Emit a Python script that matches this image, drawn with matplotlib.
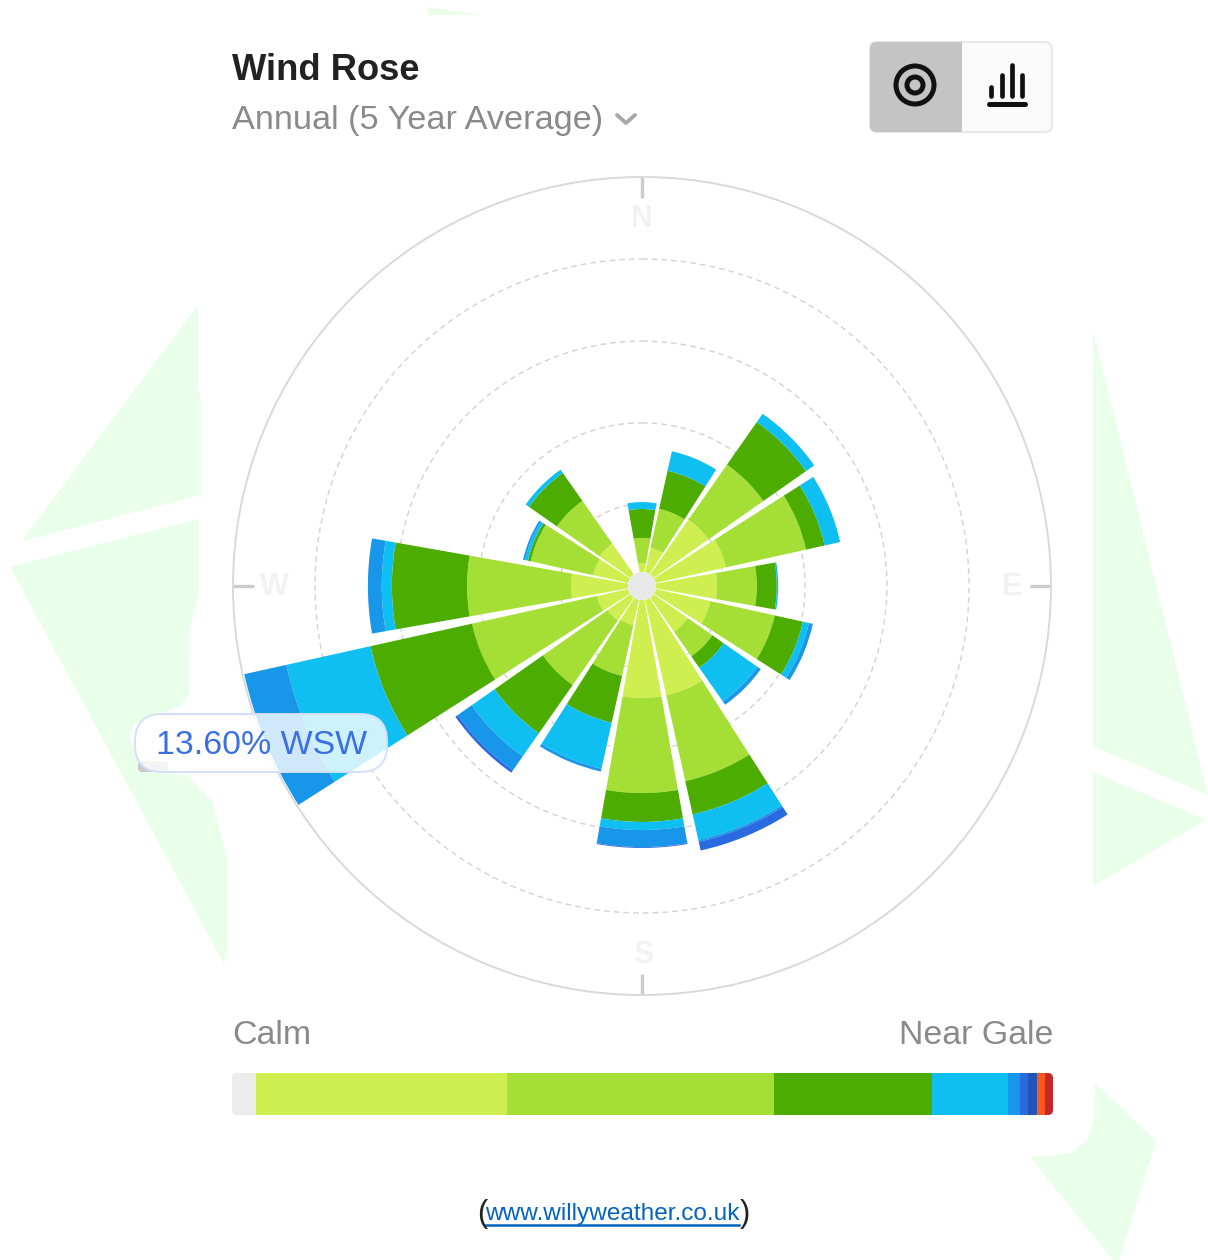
import numpy as np
import matplotlib
matplotlib.use("Agg")
import matplotlib.pyplot as plt
from matplotlib.patches import Circle, FancyBboxPatch, Polygon, Rectangle

plt.rcParams['font.family'] = ['Liberation Sans', 'DejaVu Sans']

W, H = 1208, 1260

# wind rose, percent of the time per direction, one list per speed class
directions = ['N', 'NNE', 'NE', 'ENE', 'E', 'ESE', 'SE', 'SSE', 'S', 'SSW', 'SW', 'WSW', 'W', 'WNW', 'NW', 'NNW']
light_air = [.31, .87, 2.32, 2.49, 2.11, 1.94, 1.45, 3.39, 3.39, .90, .97, 1.11, 1.97, 1.25, 1.31, 0]
light_breeze = [.87, 1.38, 2.32, 2.84, 1.38, 2.28, 1.04, 3.04, 3.29, 1.80, 2.73, 4.43, 3.60, 2.21, 1.80, 0]
gentle_breeze = [1.00, 1.35, 1.80, .66, .69, 1.00, .48, 1.18, 1.00, 1.66, 2.04, 3.60, 2.60, .10, 1.18, 0]
moderate_breeze = [.24, .69, .35, .55, .05, .21, 1.42, .90, .28, 1.63, .97, 2.98, .35, .10, .14, 0]
fresh_breeze = [0, 0, 0, 0, 0, .14, .14, .07, .59, .10, .59, 1.49, .48, .07, 0, 0]
strong_breeze = [0, 0, 0, 0, 0, 0, 0, .31, .03, 0, .10, 0, 0, 0, 0, 0]
rose_series = [light_air, light_breeze, gentle_breeze, moderate_breeze, fresh_breeze, strong_breeze]
rose_colors = ['#cfef50', '#a5df35', '#4cad00', '#10bff2', '#1896ea', '#2a6ae0']

ring_values = [2.35, 5.16, 7.99, 10.83]
rmax = 13.667
hub = 0.484

# scale bar at the bottom
scale_values = [2.9, 30.8, 32.6, 19.4, 9.3, 1.5, 1.0, 1.0, 1.0, 1.0]
scale_colors = ['#ececec', '#cfef50', '#a5df35', '#4cad00', '#10bff2', '#1896ea', '#2a6ae0', '#1f55b8', '#ff5722', '#c62828']

fig = plt.figure(figsize=(W / 100, H / 100), dpi=100, facecolor='white')

# background shapes, pixel coordinates
bg = fig.add_axes([0, 0, 1, 1], zorder=0)
bg.set_xlim(0, W)
bg.set_ylim(H, 0)
bg.axis('off')
shapes = [
    [(198, 305), (22, 541), (201, 495), (201, 400), (198, 390)],
    [(10, 567), (199, 519), (199, 594), (190, 629), (189, 695), (180, 706), (133, 724), (130, 739),
     (143, 772), (187, 775), (212, 801), (227, 858), (227, 950), (224, 964)],
    [(1093, 330), (1208, 795), (1093, 746)],
    [(1093, 772), (1206, 820), (1093, 886)],
    [(1095, 1083), (1156, 1141), (1119, 1260), (1113, 1260), (1030, 1157), (1052, 1156), (1073, 1152),
     (1087, 1140), (1093, 1123)],
    [(428, 7), (480, 15), (428, 15)],
]
for s in shapes:
    bg.add_patch(Polygon(s, closed=True, fc='#e9ffe9', ec='none'))

# rose
R = 409
ax = fig.add_axes([(642 - R) / W, (H - 586 - R) / H, 2 * R / W, 2 * R / H], projection='polar', zorder=1)
ax.patch.set_alpha(0)
ax.set_theta_zero_location('N')
ax.set_theta_direction(-1)
theta = np.deg2rad(np.arange(16) * 22.5)
bottom = np.zeros(16)
for vals, c in zip(rose_series, rose_colors):
    ax.bar(theta, vals, width=np.deg2rad(20), bottom=bottom, color=c, linewidth=0, zorder=3)
    bottom = bottom + np.array(vals)
ax.set_rorigin(-hub)
ax.set_rlim(0, rmax)
ax.set_rgrids(ring_values, labels=[''] * 4)
ax.set_thetagrids([], labels=[])
ax.yaxis.grid(True, color='#d2d2d2', linestyle=(0, (4, 3)), linewidth=1.0)
ax.set_axisbelow(True)
ax.tick_params(length=0)
ax.spines['polar'].set_color('#d9d9d9')
ax.spines['polar'].set_linewidth(1.4)
ax.spines['inner'].set_color('none')  # draw() switches this one back on
for t in np.deg2rad([0, 90, 180, 270]):
    ax.plot([t, t], [rmax - 0.72, rmax], color='#cccccc', lw=2.4, zorder=2, solid_capstyle='butt')

# everything on top, pixel coordinates again
fg = fig.add_axes([0, 0, 1, 1], zorder=2)
fg.set_xlim(0, W)
fg.set_ylim(H, 0)
fg.axis('off')
fg.patch.set_alpha(0)

fg.add_patch(Circle((642, 586), 14, fc='#e9e9e9', ec='none'))
for lab, x, y in [('N', 642, 219), ('E', 1012, 587), ('S', 643, 955), ('W', 274, 587)]:
    fg.text(x, y, lab, color='#f2f2f2', fontsize=22, fontweight='bold', ha='center', va='center')

fg.text(232, 70, 'Wind Rose', fontsize=26.2, fontweight='bold', color='#222222', va='center')
fg.text(232, 121, 'Annual (5 Year Average)', fontsize=24.7, color='#8a8a8a', va='center')
fg.plot([617, 626, 635], [115, 123, 115], color='#a8a8a8', lw=2.8, solid_capstyle='round')

# toggle
fg.add_patch(FancyBboxPatch((870, 42), 182, 90, boxstyle='round,pad=0,rounding_size=7', fc='#fafafa', ec='#e8e8e8', lw=1.5))
toggle_clip = FancyBboxPatch((870, 42), 182, 90, boxstyle='round,pad=0,rounding_size=7', fc='none', ec='none', transform=fg.transData)
fg.add_patch(toggle_clip)
left = Rectangle((869, 40), 93, 94, fc='#c4c4c4', ec='none')
fg.add_patch(left)
left.set_clip_path(toggle_clip)
fg.add_patch(Circle((915, 85), 19, fc='none', ec='#111111', lw=3.6))
fg.add_patch(Circle((915, 85), 8, fc='none', ec='#111111', lw=3.6))
for x, top in [(991, 87), (1002, 75), (1012, 65), (1022, 75)]:
    fg.plot([x, x], [top, 96], color='#111111', lw=3.4, solid_capstyle='round')
fg.plot([989, 1025], [104, 104], color='#111111', lw=3.6, solid_capstyle='round')

# tooltip
fg.add_patch(FancyBboxPatch((138, 761), 30, 11, boxstyle='round,pad=0,rounding_size=4', fc='#c9c9c9', ec='none'))
fg.add_patch(FancyBboxPatch((135, 714), 252, 58, boxstyle='round,pad=0,rounding_size=27', fc=(1, 1, 1, .8), ec='#d3e0fa', lw=1.4))
fg.text(262, 746, '13.60% WSW', fontsize=24.4, color='#3a70e2', ha='center', va='center')

fg.text(232, 1035, 'Calm', fontsize=24.4, color='#8a8a8a', va='center')
fg.text(1053, 1035, 'Near Gale', fontsize=24.4, color='#8a8a8a', ha='right', va='center')

# source line
fg.text(477, 1214, '(', fontsize=22, color='#222222', va='center')
fg.text(485, 1214, 'www.willyweather.co.uk', fontsize=17.6, color='#0563c1', va='center')
fg.plot([485, 739], [1225, 1225], color='#0563c1', lw=1.8)
fg.text(740, 1214, ')', fontsize=22, color='#222222', va='center')

# scale bar
sc = fig.add_axes([232 / W, (H - 1115) / H, 821 / W, 42 / H], zorder=2)
sc.axis('off')
sc.set_xlim(0, sum(scale_values))
sc.set_ylim(0, 1)
clip = FancyBboxPatch((0, 0), sum(scale_values), 1, boxstyle='round,pad=0,rounding_size=0.6',
                      mutation_aspect=0.2, fc='none', ec='none', transform=sc.transData)
sc.add_patch(clip)
pos = 0
for v, c in zip(scale_values, scale_colors):
    b = sc.barh(0.5, v, left=pos, height=1, color=c, linewidth=0)
    b[0].set_clip_path(clip)
    pos += v

fig.savefig('out.png', dpi=100)
